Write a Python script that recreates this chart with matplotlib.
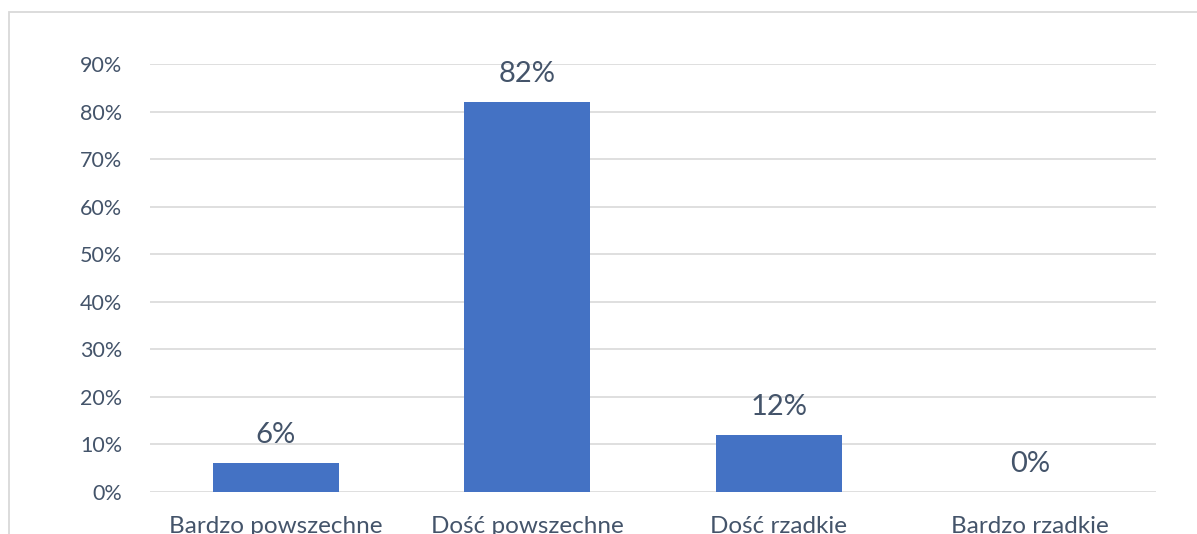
import numpy as np
import matplotlib.pyplot as plt
from matplotlib.patches import Rectangle

# kategorie i wartosci (udzial procentowy)
categories = ["Bardzo powszechne", "Dość powszechne", "Dość rzadkie", "Bardzo rzadkie"]
values = [0.06, 0.82, 0.12, 0.00]
value_labels = ["6%", "82%", "12%", "0%"]
y_ticks = [0.0, 0.1, 0.2, 0.3, 0.4, 0.5, 0.6, 0.7, 0.8, 0.9]
y_tick_labels = ["0%", "10%", "20%", "30%", "40%", "50%", "60%", "70%", "80%", "90%"]

TEXT_COLOR = "#44546A"
GRID_COLOR = "#D9D9D9"
BAR_COLOR = "#4472C4"

plt.rcParams['font.family'] = ['Lato', 'DejaVu Sans']

fig = plt.figure(figsize=(11.97, 5.34), dpi=100)

# ramka wykresu (wychodzi poza prawa i dolna krawedz obrazka)
fig.patches.append(Rectangle((9 / 1197, -0.1), 1.2, 1.1 - 11.5 / 534,
                             transform=fig.transFigure, fill=False,
                             edgecolor=GRID_COLOR, linewidth=1.3))

ax = fig.add_axes([150 / 1197, 42 / 534, 1006 / 1197, 428 / 534])

x = np.arange(len(categories))
ax.bar(x, values, width=0.5, color=BAR_COLOR, zorder=3)

# etykiety wartosci nad slupkami
for xi, v, lab in zip(x, values, value_labels):
    ax.annotate(lab, (xi, v), xytext=(0, 11), textcoords="offset points",
                ha="center", va="bottom", fontsize=21, color=TEXT_COLOR)

ax.set_xlim(-0.5, len(categories) - 0.5)
ax.set_ylim(0, 0.9)
ax.set_yticks(y_ticks)
ax.set_yticklabels(y_tick_labels)
ax.set_xticks(x)
ax.set_xticklabels(categories)

ax.tick_params(axis="y", length=0, pad=20, labelsize=15.5, labelcolor=TEXT_COLOR)
ax.tick_params(axis="x", length=0, pad=17, labelsize=17.5, labelcolor=TEXT_COLOR)

ax.yaxis.grid(True, color=GRID_COLOR, linewidth=1.2, zorder=0)
ax.set_axisbelow(True)
for s in ax.spines.values():
    s.set_visible(False)

fig.savefig("out.png", dpi=100)
